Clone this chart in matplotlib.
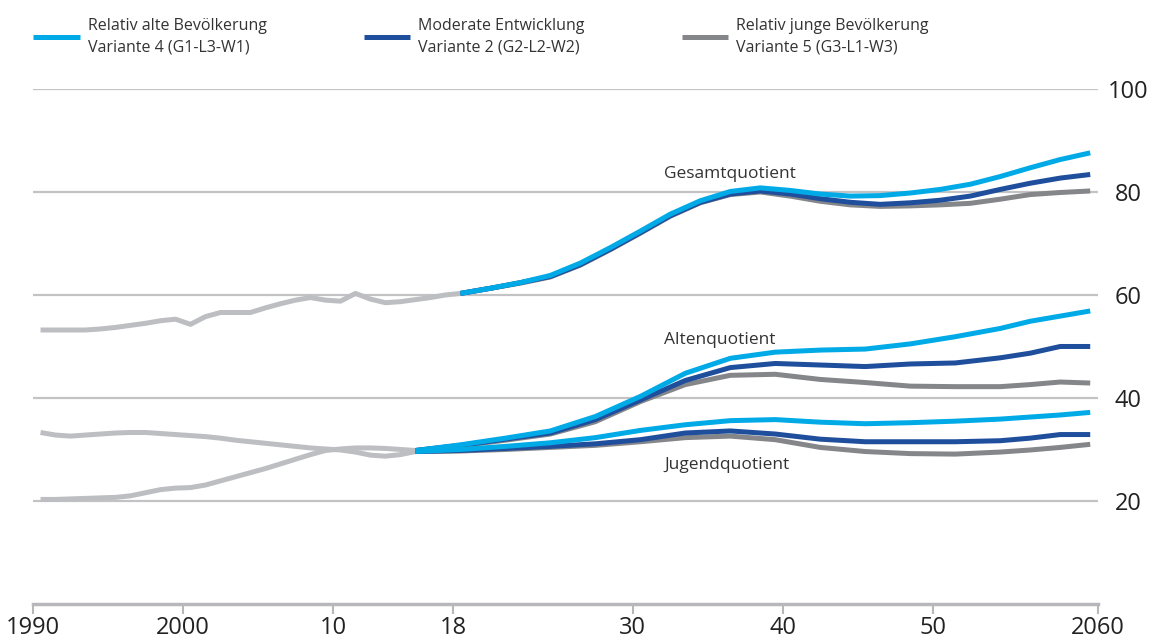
import matplotlib
matplotlib.use("Agg")
import matplotlib.pyplot as plt

plt.rcParams['font.family'] = ['Open Sans', 'DejaVu Sans']

# historical values (one line each, same grey for all)
hist_years = list(range(1990, 2019))
hist_gesamt = [53.2, 53.2, 53.2, 53.2, 53.4, 53.7, 54.1, 54.5, 55.0, 55.3,
               54.3, 55.8, 56.6, 56.6, 56.6, 57.5, 58.3, 59.0, 59.5, 59.0,
               58.8, 60.3, 59.2, 58.5, 58.7, 59.1, 59.5, 60.0, 60.3]
hist_years_aj = list(range(1990, 2016))
hist_alten = [20.3, 20.3, 20.4, 20.5, 20.6, 20.7, 21.0, 21.6, 22.2, 22.5,
              22.6, 23.1, 23.9, 24.7, 25.5, 26.3, 27.2, 28.1, 29.0, 29.8,
              30.1, 30.3, 30.3, 30.2, 30.0, 29.8]
hist_jugend = [33.3, 32.8, 32.6, 32.8, 33.0, 33.2, 33.3, 33.3, 33.1, 32.9,
               32.7, 32.5, 32.2, 31.8, 31.5, 31.2, 30.9, 30.6, 30.3, 30.1,
               29.9, 29.5, 28.9, 28.7, 29.0, 29.6]

# projections: Gesamtquotient
proj_years_g = [2018, 2020, 2022, 2024, 2026, 2028, 2030, 2032, 2034, 2036, 2038,
                2040, 2042, 2044, 2046, 2048, 2050, 2052, 2054, 2056, 2058, 2060]
gesamt_v4 = [60.3, 61.3, 62.4, 63.8, 66.2, 69.2, 72.4, 75.7, 78.3, 80.1, 80.8,
             80.3, 79.6, 79.2, 79.3, 79.8, 80.5, 81.5, 83.0, 84.7, 86.3, 87.6]
gesamt_v2 = [60.3, 61.3, 62.4, 63.6, 65.9, 68.9, 72.1, 75.4, 78.0, 79.6, 80.2,
             79.6, 78.7, 78.0, 77.6, 77.9, 78.4, 79.2, 80.5, 81.7, 82.7, 83.4]
gesamt_v5 = [60.3, 61.3, 62.3, 63.5, 65.8, 68.8, 72.0, 75.3, 77.9, 79.5, 80.0,
             79.2, 78.2, 77.5, 77.2, 77.3, 77.5, 77.8, 78.6, 79.5, 79.9, 80.2]

# projections: Alten- und Jugendquotient
proj_years = [2015, 2018, 2021, 2024, 2027, 2030, 2033, 2036, 2039,
              2042, 2045, 2048, 2051, 2054, 2056, 2058, 2060]
alten_v4 = [29.8, 30.9, 32.2, 33.6, 36.4, 40.3, 44.8, 47.7, 48.9,
            49.3, 49.5, 50.5, 51.9, 53.5, 54.9, 55.9, 56.9]
alten_v2 = [29.8, 30.8, 32.0, 33.2, 35.8, 39.6, 43.4, 45.9, 46.7,
            46.4, 46.1, 46.6, 46.8, 47.8, 48.7, 50.0, 50.0]
alten_v5 = [29.8, 30.7, 31.8, 33.0, 35.4, 39.3, 42.6, 44.4, 44.6,
            43.6, 43.0, 42.3, 42.2, 42.2, 42.6, 43.1, 42.9]
jugend_v4 = [29.6, 30.0, 30.6, 31.3, 32.3, 33.7, 34.8, 35.6, 35.8,
             35.3, 35.0, 35.2, 35.5, 35.9, 36.3, 36.7, 37.2]
jugend_v2 = [29.6, 29.8, 30.2, 30.6, 31.1, 31.9, 33.2, 33.6, 33.0,
             32.0, 31.5, 31.5, 31.5, 31.7, 32.2, 32.9, 32.9]
jugend_v5 = [29.6, 29.7, 30.0, 30.4, 30.8, 31.5, 32.3, 32.6, 31.9,
             30.4, 29.6, 29.2, 29.1, 29.5, 29.9, 30.4, 31.0]

legend_labels = ['Relativ alte Bevölkerung\nVariante 4 (G1-L3-W1)',
                 'Moderate Entwicklung\nVariante 2 (G2-L2-W2)',
                 'Relativ junge Bevölkerung\nVariante 5 (G3-L1-W3)']
tick_labels = ['1990', '2000', '10', '18', '30', '40', '50', '2060']
y_ticks = [20, 40, 60, 80, 100]

c_hist = '#bdbec2'
c_v4 = '#00aae7'
c_v2 = '#1f4f9c'
c_v5 = '#858689'
c_grid = '#c3c3c6'
c_text = '#333333'
lw = 3.6

fig = plt.figure(figsize=(11.51, 6.43), dpi=100)
ax = fig.add_axes([0.0287, 0.0607, 0.925, 0.8009])

for v in y_ticks:
    ax.axhline(v, color=c_grid, lw=1.6, zorder=0)

ax.plot(hist_years, hist_gesamt, color=c_hist, lw=lw, solid_capstyle='butt')
ax.plot(hist_years_aj, hist_alten, color=c_hist, lw=lw, solid_capstyle='butt')
ax.plot(hist_years_aj, hist_jugend, color=c_hist, lw=lw, solid_capstyle='butt')

l5, = ax.plot(proj_years_g, gesamt_v5, color=c_v5, lw=lw, solid_capstyle='butt')
ax.plot(proj_years, alten_v5, color=c_v5, lw=lw, solid_capstyle='butt')
ax.plot(proj_years, jugend_v5, color=c_v5, lw=lw, solid_capstyle='butt')
l2, = ax.plot(proj_years_g, gesamt_v2, color=c_v2, lw=lw, solid_capstyle='butt')
ax.plot(proj_years, alten_v2, color=c_v2, lw=lw, solid_capstyle='butt')
ax.plot(proj_years, jugend_v2, color=c_v2, lw=lw, solid_capstyle='butt')
l4, = ax.plot(proj_years_g, gesamt_v4, color=c_v4, lw=lw, solid_capstyle='butt')
ax.plot(proj_years, alten_v4, color=c_v4, lw=lw, solid_capstyle='butt')
ax.plot(proj_years, jugend_v4, color=c_v4, lw=lw, solid_capstyle='butt')

ax.text(2031.6, 82.7, 'Gesamtquotient', fontsize=12.5, color=c_text)
ax.text(2031.6, 50.4, 'Altenquotient', fontsize=12.5, color=c_text)
ax.text(2031.6, 26.2, 'Jugendquotient', fontsize=12.5, color=c_text)

ax.set_xlim(1989.5, 2060.5)
ax.set_ylim(0, 100)
ax.set_xticks([1989.5, 1999.5, 2009.5, 2017.5, 2029.5, 2039.5, 2049.5, 2060.5])
ax.set_xticklabels(tick_labels, fontsize=17, color='#222222')
ax.tick_params(axis='x', length=7, width=1.5, color='#b8b8bc', pad=2)

ax.yaxis.tick_right()
ax.set_yticks(y_ticks)
ax.set_yticklabels([str(v) for v in y_ticks], fontsize=17, color='#222222')
ax.tick_params(axis='y', length=0, pad=22)
for t in ax.get_yticklabels():
    t.set_horizontalalignment('center')

for s in ['top', 'left', 'right']:
    ax.spines[s].set_visible(False)
ax.spines['bottom'].set_color('#b8b8bc')
ax.spines['bottom'].set_linewidth(2.5)
ax.spines['bottom'].set_zorder(0)

leg = fig.legend([l4, l2, l5], legend_labels, loc='upper left',
                 bbox_to_anchor=(0.022, 0.985), ncol=3, frameon=False,
                 fontsize=11.5, handlelength=2.9, handletextpad=0.5,
                 columnspacing=6.1, borderpad=0, labelcolor=c_text,
                 labelspacing=0)
for t in leg.get_texts():
    t.set_linespacing(1.45)

fig.savefig('out.png', dpi=100)
